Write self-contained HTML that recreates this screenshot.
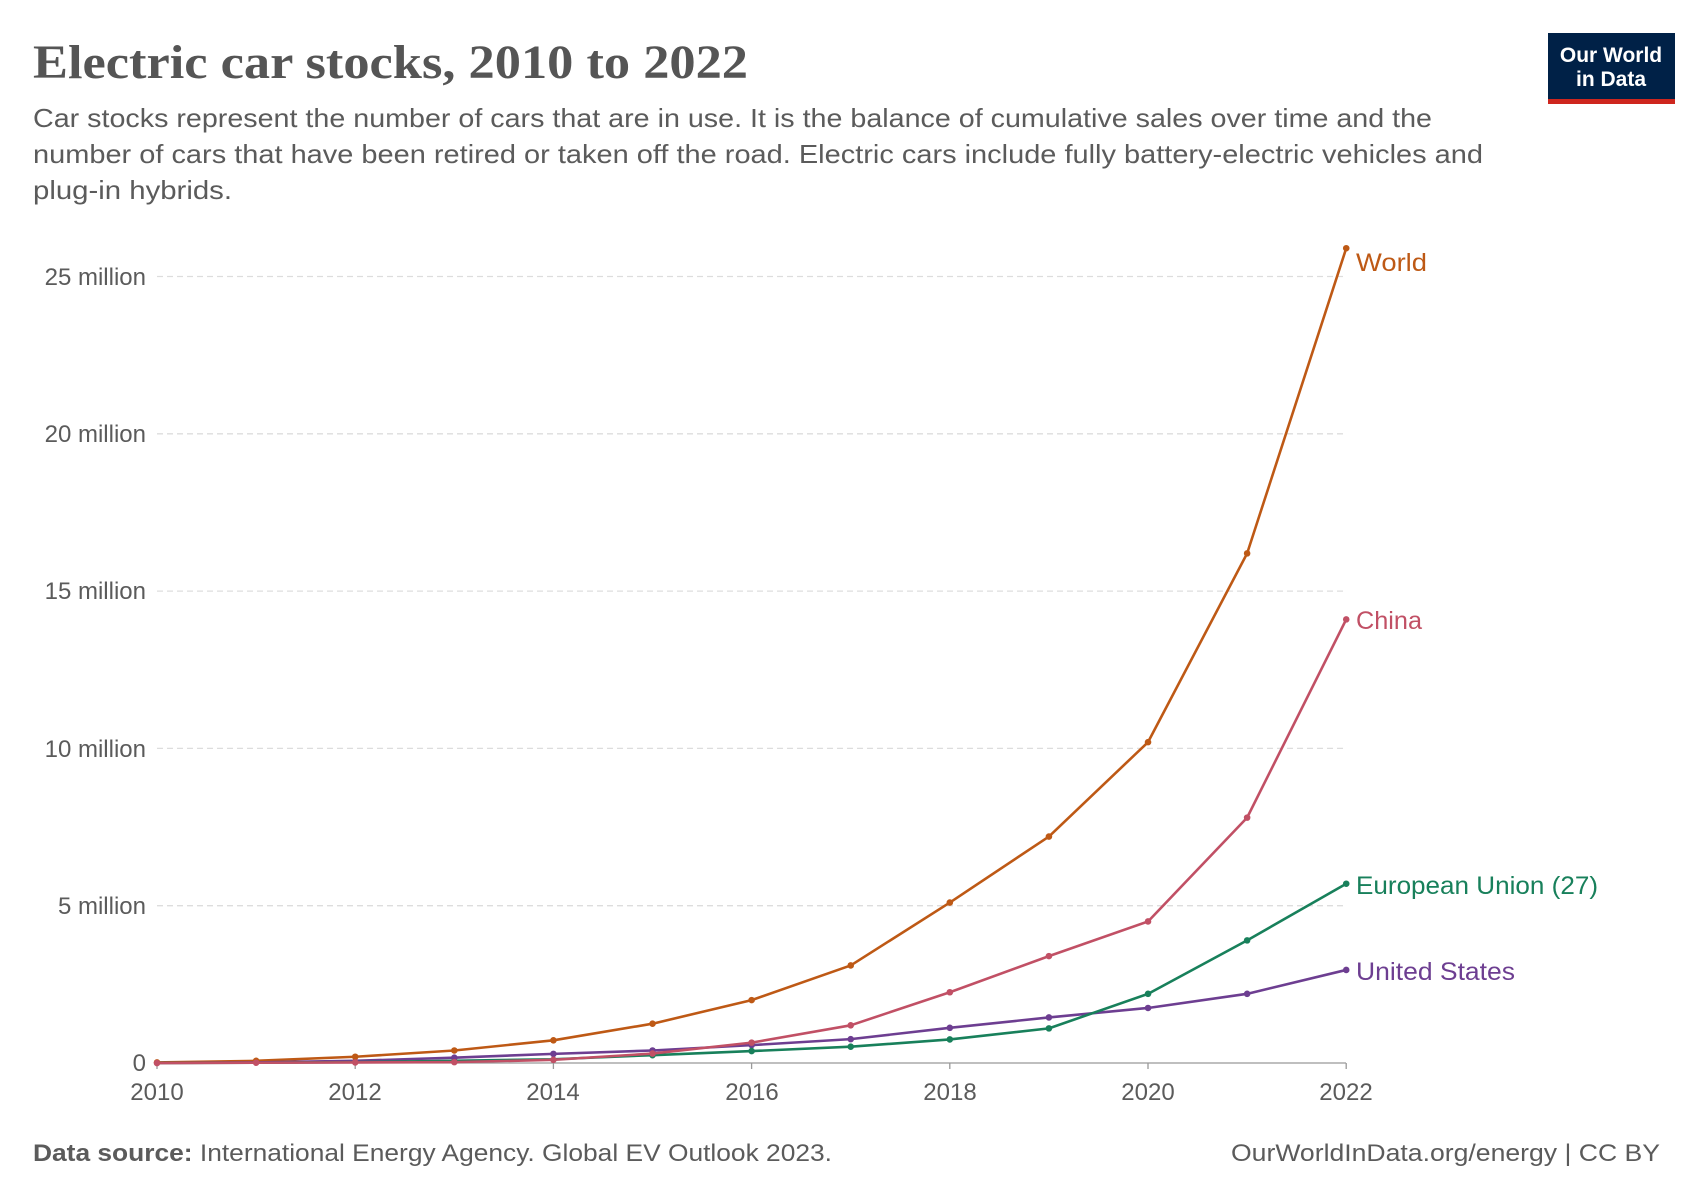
<!DOCTYPE html>
<html><head><meta charset="utf-8"><style>
html,body{margin:0;padding:0;background:#fff;}
svg{display:block;}
</style></head><body>
<svg width="1700" height="1200" viewBox="0 0 1700 1200" xmlns="http://www.w3.org/2000/svg" font-family="Liberation Sans, sans-serif">
<rect width="1700" height="1200" fill="#fff"/>
<text x="33" y="78" font-family="Liberation Serif, serif" font-weight="bold" font-size="48" fill="#555" textLength="715" lengthAdjust="spacingAndGlyphs">Electric car stocks, 2010 to 2022</text>
<g font-size="26" fill="#5b5b5b">
<text x="33" y="127" textLength="1399" lengthAdjust="spacingAndGlyphs">Car stocks represent the number of cars that are in use. It is the balance of cumulative sales over time and the</text>
<text x="33" y="163" textLength="1450" lengthAdjust="spacingAndGlyphs">number of cars that have been retired or taken off the road. Electric cars include fully battery-electric vehicles and</text>
<text x="33" y="199" textLength="199" lengthAdjust="spacingAndGlyphs">plug-in hybrids.</text>
</g>
<rect x="1548" y="33" width="127" height="71" fill="#002147"/>
<rect x="1548" y="99" width="127" height="5" fill="#ce261e"/>
<text x="1611" y="62" text-anchor="middle" font-weight="bold" font-size="21" fill="#fff">Our World</text>
<text x="1611" y="86" text-anchor="middle" font-weight="bold" font-size="21" fill="#fff">in Data</text>
<g stroke="#ddd" stroke-dasharray="6,4" stroke-width="1.3">
<line x1="157" y1="276.5" x2="1346" y2="276.5"/>
<line x1="157" y1="433.8" x2="1346" y2="433.8"/>
<line x1="157" y1="591.1" x2="1346" y2="591.1"/>
<line x1="157" y1="748.4" x2="1346" y2="748.4"/>
<line x1="157" y1="905.7" x2="1346" y2="905.7"/>
</g>
<line x1="157" y1="1063" x2="1346" y2="1063" stroke="#999" stroke-width="1.3"/>
<g stroke="#999" stroke-width="1.3">
<line x1="157" y1="1063" x2="157" y2="1069"/><line x1="355.2" y1="1063" x2="355.2" y2="1069"/><line x1="553.4" y1="1063" x2="553.4" y2="1069"/><line x1="751.6" y1="1063" x2="751.6" y2="1069"/><line x1="949.8" y1="1063" x2="949.8" y2="1069"/><line x1="1148" y1="1063" x2="1148" y2="1069"/><line x1="1346.2" y1="1063" x2="1346.2" y2="1069"/>
</g>
<g font-size="24" fill="#5b5b5b" text-anchor="end">
<text x="146" y="285">25 million</text>
<text x="146" y="442">20 million</text>
<text x="146" y="599">15 million</text>
<text x="146" y="757">10 million</text>
<text x="146" y="914">5 million</text>
<text x="146" y="1071">0</text>
</g>
<g font-size="24" fill="#5b5b5b" text-anchor="middle">
<text x="157" y="1100">2010</text><text x="355" y="1100">2012</text><text x="553" y="1100">2014</text><text x="752" y="1100">2016</text><text x="950" y="1100">2018</text><text x="1148" y="1100">2020</text><text x="1346" y="1100">2022</text>
</g>
<g transform="matrix(0.995 0 0 0.9956 -0.2 -0.27)">
<g fill="none" stroke-width="2.6" stroke-linejoin="round">
<polyline stroke="#be5915" points="158,1067.4 257.6,1065.8 357.2,1061.7 456.8,1055.4 556.4,1045.2 656,1028.5 755.6,1004.8 855.2,970 954.8,906.8 1054.4,840.5 1154,745.7 1253.6,556.1 1353.2,249.6"/>
<polyline stroke="#6d3e91" points="158,1067.9 257.6,1067.4 357.2,1065.8 456.8,1062.6 556.4,1058.8 656,1055.4 755.6,1050 855.2,1044 954.8,1032.6 1054.4,1022.2 1154,1012.7 1253.6,998.5 1353.2,974.5"/>
<polyline stroke="#18805b" points="158,1067.9 257.6,1067.7 357.2,1067.1 456.8,1065.8 556.4,1064.2 656,1060.1 755.6,1056 855.2,1051.6 954.8,1044.3 1054.4,1033.2 1154,998.5 1253.6,944.8 1353.2,887.9"/>
<polyline stroke="#c15065" points="158,1068 257.6,1067.7 357.2,1067.4 456.8,1067.1 556.4,1064.8 656,1058.5 755.6,1047.5 855.2,1030.1 954.8,996.9 1054.4,960.6 1154,925.8 1253.6,821.5 1353.2,622.4"/>
</g>
<g fill="#be5915"><circle cx="158" cy="1067.4" r="3.3"/><circle cx="257.6" cy="1065.8" r="3.3"/><circle cx="357.2" cy="1061.7" r="3.3"/><circle cx="456.8" cy="1055.4" r="3.3"/><circle cx="556.4" cy="1045.2" r="3.3"/><circle cx="656" cy="1028.5" r="3.3"/><circle cx="755.6" cy="1004.8" r="3.3"/><circle cx="855.2" cy="970" r="3.3"/><circle cx="954.8" cy="906.8" r="3.3"/><circle cx="1054.4" cy="840.5" r="3.3"/><circle cx="1154" cy="745.7" r="3.3"/><circle cx="1253.6" cy="556.1" r="3.3"/><circle cx="1353.2" cy="249.6" r="3.3"/></g>
<g fill="#6d3e91"><circle cx="456.8" cy="1062.6" r="3.3"/><circle cx="556.4" cy="1058.8" r="3.3"/><circle cx="656" cy="1055.4" r="3.3"/><circle cx="755.6" cy="1050" r="3.3"/><circle cx="855.2" cy="1044" r="3.3"/><circle cx="954.8" cy="1032.6" r="3.3"/><circle cx="1054.4" cy="1022.2" r="3.3"/><circle cx="1154" cy="1012.7" r="3.3"/><circle cx="1253.6" cy="998.5" r="3.3"/><circle cx="1353.2" cy="974.5" r="3.3"/></g>
<g fill="#18805b"><circle cx="656" cy="1060.1" r="3.3"/><circle cx="755.6" cy="1056" r="3.3"/><circle cx="855.2" cy="1051.6" r="3.3"/><circle cx="954.8" cy="1044.3" r="3.3"/><circle cx="1054.4" cy="1033.2" r="3.3"/><circle cx="1154" cy="998.5" r="3.3"/><circle cx="1253.6" cy="944.8" r="3.3"/><circle cx="1353.2" cy="887.9" r="3.3"/></g>
<g fill="#c15065"><circle cx="158" cy="1068" r="3.3"/><circle cx="257.6" cy="1067.7" r="3.3"/><circle cx="357.2" cy="1067.4" r="3.3"/><circle cx="456.8" cy="1067.1" r="3.3"/><circle cx="556.4" cy="1064.8" r="3.3"/><circle cx="656" cy="1058.5" r="3.3"/><circle cx="755.6" cy="1047.5" r="3.3"/><circle cx="855.2" cy="1030.1" r="3.3"/><circle cx="954.8" cy="996.9" r="3.3"/><circle cx="1054.4" cy="960.6" r="3.3"/><circle cx="1154" cy="925.8" r="3.3"/><circle cx="1253.6" cy="821.5" r="3.3"/><circle cx="1353.2" cy="622.4" r="3.3"/></g>
</g>
<g font-size="25">
<text x="1356" y="271" fill="#be5915" textLength="71" lengthAdjust="spacingAndGlyphs">World</text>
<text x="1356" y="629" fill="#c15065" textLength="66" lengthAdjust="spacingAndGlyphs">China</text>
<text x="1356" y="894" fill="#18805b" textLength="242" lengthAdjust="spacingAndGlyphs">European Union (27)</text>
<text x="1356" y="980" fill="#6d3e91" textLength="159" lengthAdjust="spacingAndGlyphs">United States</text>
</g>
<g font-size="24" fill="#5b5b5b">
<text x="33" y="1161" textLength="799" lengthAdjust="spacingAndGlyphs"><tspan font-weight="bold">Data source:</tspan> International Energy Agency. Global EV Outlook 2023.</text>
<text x="1231" y="1161" textLength="429" lengthAdjust="spacingAndGlyphs">OurWorldInData.org/energy | CC BY</text>
</g>
</svg>
</body></html>
